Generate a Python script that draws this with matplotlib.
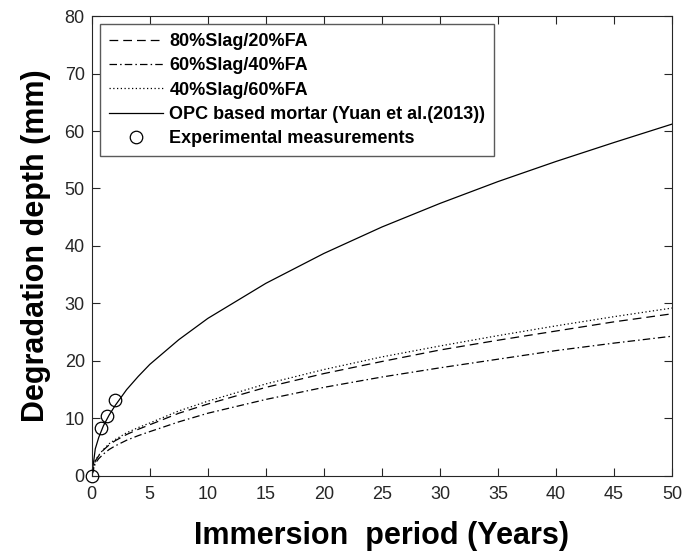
import matplotlib
matplotlib.use("Agg")
from matplotlib import pyplot as plt

plt.rcParams['font.family'] = ['Liberation Sans', 'DejaVu Sans']

# immersion period (years) at which the curves were read
years = [0, 0.3, 0.6, 1, 1.5, 2, 3, 4, 5, 7.5, 10, 15, 20, 25, 30, 35, 40, 45, 50]

slag80 = [0, 2.6, 3.5, 4.5, 5.4, 6.1, 7.2, 8.1, 8.9, 10.9, 12.5, 15.4, 17.8, 19.9, 21.9, 23.6, 25.2, 26.8, 28.2]
slag60 = [0, 2.2, 3.0, 3.8, 4.6, 5.2, 6.2, 7.0, 7.7, 9.4, 10.9, 13.3, 15.4, 17.2, 18.8, 20.3, 21.8, 23.1, 24.3]
slag40 = [0, 2.7, 3.6, 4.6, 5.6, 6.3, 7.5, 8.4, 9.2, 11.3, 13.0, 16.0, 18.5, 20.7, 22.6, 24.4, 26.1, 27.7, 29.2]
opc = [0, 4.7, 6.7, 8.7, 10.6, 12.2, 15.0, 17.3, 19.4, 23.7, 27.4, 33.5, 38.7, 43.3, 47.4, 51.2, 54.7, 58.0, 61.2]

# experimental measurements
exp_t = [0, 0.8, 1.3, 2.0]
exp_d = [0, 8.3, 10.5, 13.2]

fig, ax = plt.subplots(figsize=(6.85, 5.54), dpi=100)
fig.subplots_adjust(left=0.134, right=0.981, top=0.971, bottom=0.141)

ax.plot(years, slag80, color="black", lw=0.9, dashes=(7, 4), label="80%Slag/20%FA")
ax.plot(years, slag60, color="black", lw=0.9, dashes=(6, 2.5, 1.2, 2.5), label="60%Slag/40%FA")
ax.plot(years, slag40, color="black", lw=0.9, dashes=(1, 2), label="40%Slag/60%FA")
ax.plot(years, opc, color="black", lw=0.9, label="OPC based mortar (Yuan et al.(2013))")
ax.plot(exp_t, exp_d, "o", mfc="none", mec="black", ms=9, mew=0.9, clip_on=False,
        label="Experimental measurements", zorder=5)

ax.set_xlim(0, 50)
ax.set_ylim(0, 80)
ax.set_xticks(range(0, 51, 5))
ax.set_yticks(range(0, 81, 10))
ax.tick_params(direction="in", top=True, right=True, labelsize=13, colors="#262626", length=6)
ax.tick_params(axis="x", pad=7)
ax.tick_params(axis="y", pad=5)
for s in ax.spines.values():
    s.set_color("#262626")

ax.set_xlabel("Immersion  period (Years)", fontsize=22, fontweight="bold", labelpad=13)
ax.set_ylabel("Degradation depth (mm)", fontsize=22, fontweight="bold", labelpad=10)

leg = ax.legend(loc="upper left", fancybox=False, edgecolor="#5a5a5a",
                prop={"weight": "bold", "size": 13}, handlelength=3.0, handletextpad=0.35,
                borderaxespad=0.45, borderpad=0.5, labelspacing=0.4, framealpha=1)
leg.get_frame().set_linewidth(1.0)

fig.savefig("out.png")
